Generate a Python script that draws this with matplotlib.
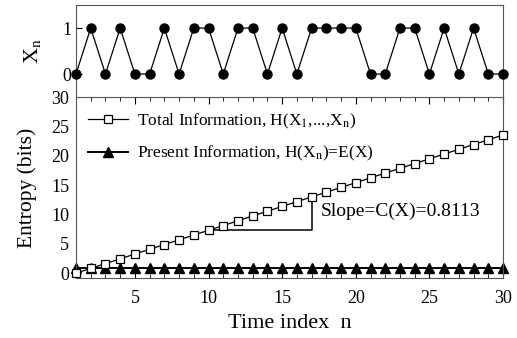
import numpy as np
import matplotlib
matplotlib.use('Agg')
import matplotlib.pyplot as plt
from matplotlib.ticker import MultipleLocator

plt.rcParams['font.family'] = ['Liberation Serif', 'DejaVu Serif']
plt.rcParams['mathtext.fontset'] = 'stix'

n = list(range(1, 31))
xn = [0, 1, 0, 1, 0, 0, 1, 0, 1, 1, 0, 1, 1, 0, 1, 0, 1, 1, 1, 1,
      0, 0, 1, 1, 0, 1, 0, 1, 0, 0]
total_info = [0.0, 0.81, 1.62, 2.43, 3.25, 4.06, 4.87, 5.68, 6.49, 7.30,
              8.11, 8.92, 9.74, 10.55, 11.36, 12.17, 12.98, 13.79, 14.60, 15.41,
              16.23, 17.04, 17.85, 18.66, 19.47, 20.28, 21.09, 21.90, 22.72, 23.53]
present_info = [0.81] * 30
slope_x = [10, 17, 17]
slope_y = [7.30, 7.30, 12.98]

fig = plt.figure(figsize=(5.17, 3.38), dpi=100)
ax1 = fig.add_axes([0.147, 0.713, 0.826, 0.272])
ax2 = fig.add_axes([0.147, 0.178, 0.826, 0.535])

# top panel: the sequence
ax1.plot(n, xn, color='black', lw=0.9, marker='o', markersize=6.5, clip_on=False, zorder=3)
ax1.set_xlim(1, 30)
ax1.set_ylim(-0.5, 1.5)
ax1.set_yticks([0, 1])
ax1.set_xticks([])
ax1.spines['bottom'].set_visible(False)
ax1.tick_params(axis='y', direction='in', length=4, labelsize=13)
ax1.set_ylabel('X$_\\mathrm{n}$', fontsize=16, labelpad=14)
for s in ax1.spines.values():
    s.set_color('#555555')

# bottom panel: entropies
ax2.plot(n, total_info, color='black', lw=0.9, marker='s', markersize=5.5,
         markerfacecolor='white', markeredgewidth=0.9, clip_on=False, zorder=3,
         label='Total Information, H(X$_1$,...,X$_\\mathrm{n}$)')
ax2.plot(n, present_info, color='black', lw=1.4, marker='^', markersize=6.5,
         clip_on=False, zorder=2,
         label='Present Information, H(X$_\\mathrm{n}$)=E(X)')
ax2.plot(slope_x, slope_y, color='black', lw=1.1)
ax2.text(17.6, 10.6, 'Slope=C(X)=0.8113', fontsize=14, va='center', ha='left')

ax2.set_xlim(1, 30)
ax2.set_ylim(-0.8, 30)
ax2.xaxis.set_major_locator(MultipleLocator(5))
ax2.xaxis.set_minor_locator(MultipleLocator(1))
ax2.set_yticks([0, 5, 10, 15, 20, 25, 30])
ax2.tick_params(axis='x', which='major', direction='in', length=5, top=True, labelsize=13, pad=9)
ax2.tick_params(axis='x', which='minor', direction='in', length=3, top=True)
ax2.tick_params(axis='y', direction='in', length=0, labelsize=13, pad=5)
ax2.set_ylabel('Entropy (bits)', fontsize=15.5, labelpad=10)
ax2.set_xlabel('Time index  n', fontsize=16, labelpad=5)
for s in ax2.spines.values():
    s.set_color('#555555')

ax2.legend(loc='upper left', bbox_to_anchor=(0.0, 0.985), frameon=False, fontsize=12.5,
           handlelength=2.3, handletextpad=0.5, labelspacing=0.75, borderaxespad=0.3)

fig.savefig('out.png', dpi=100)
